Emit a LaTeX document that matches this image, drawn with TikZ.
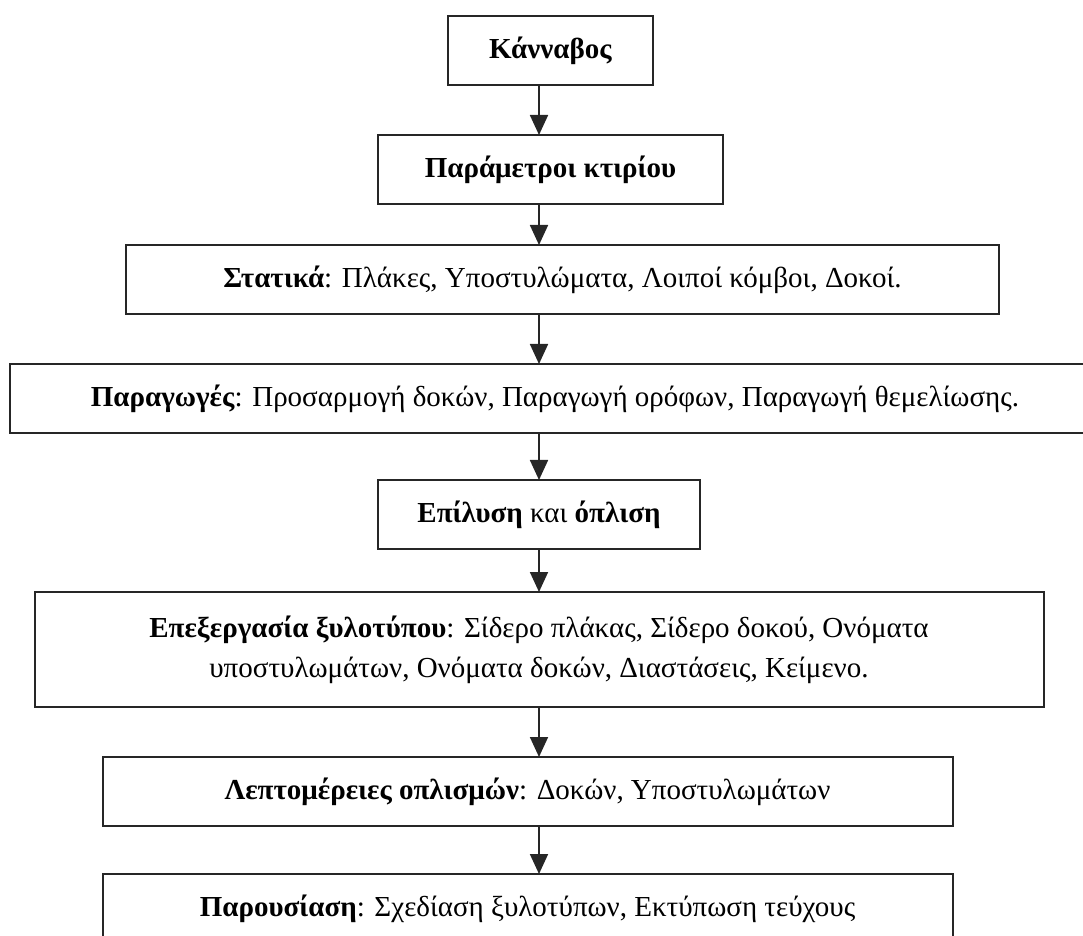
\documentclass[tikz,border=0pt]{standalone}
\usepackage{fontspec}
\setmainfont{Liberation Serif}
\usepackage{tikz}
\usetikzlibrary{arrows.meta,positioning}
\tikzset{
  stagebox/.style={
    draw=black!85,
    line width=1pt,
    fill=white,
    inner sep=0pt,
    outer sep=0pt,
    minimum height=34.5pt,
    align=center,
    font=\fontsize{14.5}{20}\selectfont
  },
  arrow/.style={
    -{Triangle[length=10pt,width=9pt]},
    line width=0.9pt,
    draw=black!85
  }
}

\begin{document}
\begin{tikzpicture}
\useasboundingbox (0,0) rectangle (541.5pt,-468pt);
\coordinate (spine) at (269.5pt,0);
\node[stagebox, minimum width=102.5pt] (kan) at (275.25pt,-25.25pt) {\textbf{Κάνναβος}};
\node[stagebox, minimum width=172.5pt, below=25pt of kan] (par) {\textbf{Παράμετροι κτιρίου}};
\node[stagebox, minimum width=436.5pt, below=20.5pt of par, xshift=6pt] (stat)
  {\textbf{Στατικά}: Πλάκες, Υποστυλώματα, Λοιποί κόμβοι, Δοκοί.};
\node[stagebox, minimum width=545pt, below=25pt of stat, xshift=-3.75pt] (parag)
  {\textbf{Παραγωγές}: Προσαρμογή δοκών, Παραγωγή ορόφων, Παραγωγή θεμελίωσης.};
\node[stagebox, minimum width=161pt, below=23.5pt of parag, xshift=-8pt] (epil)
  {\textbf{Επίλυση} και \textbf{όπλιση}};
\node[stagebox, minimum width=504.5pt, minimum height=57.5pt, below=21.5pt of epil] (epex)
  {\textbf{Επεξεργασία ξυλοτύπου}: Σίδερο πλάκας, Σίδερο δοκού, Ονόματα\\
   υποστυλωμάτων, Ονόματα δοκών, Διαστάσεις, Κείμενο.};
\node[stagebox, minimum width=425pt, below=25pt of epex, xshift=-5.75pt] (lept)
  {\textbf{Λεπτομέρειες οπλισμών}: Δοκών, Υποστυλωμάτων};
\node[stagebox, minimum width=425pt, below=24pt of lept] (parou)
  {\textbf{Παρουσίαση}: Σχεδίαση ξυλοτύπων, Εκτύπωση τεύχους};
\foreach \a/\b in {kan/par, par/stat, stat/parag, parag/epil, epil/epex, epex/lept, lept/parou}
  \draw[arrow] (\a.south -| spine) -- (\b.north -| spine);
\end{tikzpicture}
\end{document}
